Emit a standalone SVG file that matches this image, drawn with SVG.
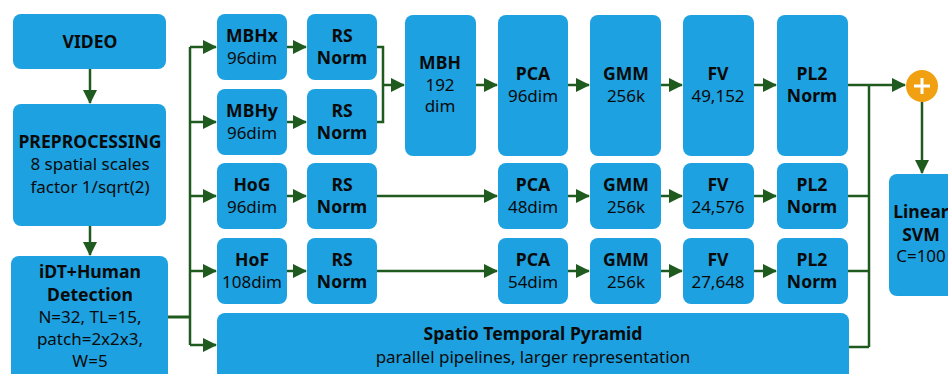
<svg xmlns="http://www.w3.org/2000/svg" width="948" height="374" viewBox="0 0 948 374">
  <style>
    .box { fill: #1DA1E0; }
    .t { font-family: "Noto Sans", "Open Sans", "DejaVu Sans", sans-serif; font-size: 17px; fill: #0a0a0a; text-anchor: middle; }
    .b { font-weight: bold; font-size: 17.6px; }
    .wire { fill: none; stroke: #1F5A1E; stroke-width: 2.5; }
  </style>
  <defs>
    <marker id="arrow" markerUnits="userSpaceOnUse" markerWidth="14" markerHeight="14" refX="13" refY="7" orient="auto">
      <path d="M0,0 L14,7 L0,14 z" fill="#1F5A1E"/>
    </marker>
  </defs>
  <rect width="948" height="374" fill="#ffffff"/>

  <!-- connectors -->
  <g id="connectors" class="wire">
    <path d="M90,69 V103" marker-end="url(#arrow)"/>
    <path d="M90,226 V255" marker-end="url(#arrow)"/>
    <path d="M168,317 H190" stroke-width="3"/>
    <path d="M190,47 V345"/>
    <path d="M190,47 H216" marker-end="url(#arrow)"/>
    <path d="M190,122 H216" marker-end="url(#arrow)"/>
    <path d="M190,196 H216" marker-end="url(#arrow)"/>
    <path d="M190,271 H216" marker-end="url(#arrow)"/>
    <path d="M190,345 H216" marker-end="url(#arrow)"/>
    <path d="M287,47 H306" marker-end="url(#arrow)"/>
    <path d="M287,122 H306" marker-end="url(#arrow)"/>
    <path d="M287,196 H306" marker-end="url(#arrow)"/>
    <path d="M287,271 H306" marker-end="url(#arrow)"/>
    <path d="M377,47 H383 V122 H377"/>
    <path d="M383,85 H404" marker-end="url(#arrow)"/>
    <path d="M476,85 H497" marker-end="url(#arrow)"/>
    <path d="M377,196 H497" marker-end="url(#arrow)"/>
    <path d="M377,271 H497" marker-end="url(#arrow)"/>
    <path d="M568,85 H589" marker-end="url(#arrow)"/>
    <path d="M568,196 H589" marker-end="url(#arrow)"/>
    <path d="M568,271 H589" marker-end="url(#arrow)"/>
    <path d="M661,85 H682" marker-end="url(#arrow)"/>
    <path d="M661,196 H682" marker-end="url(#arrow)"/>
    <path d="M661,271 H682" marker-end="url(#arrow)"/>
    <path d="M754,85 H776" marker-end="url(#arrow)"/>
    <path d="M754,196 H776" marker-end="url(#arrow)"/>
    <path d="M754,271 H776" marker-end="url(#arrow)"/>
    <path d="M848,85 H905" marker-end="url(#arrow)"/>
    <path d="M869,85 V347"/>
    <path d="M848,196 H869"/>
    <path d="M848,271 H869"/>
    <path d="M849,347 H869"/>
    <path d="M922,102 V173" marker-end="url(#arrow)"/>
  </g>

  <g id="video">
    <rect class="box" x="13" y="14" width="153" height="55" rx="8"/>
    <text class="t b" x="90" y="48">VIDEO</text>
  </g>
  <g id="preprocessing">
    <rect class="box" x="13" y="104" width="153" height="122" rx="8"/>
    <text class="t b" x="90" y="148">PREPROCESSING</text>
    <text class="t" x="90" y="170">8 spatial scales</text>
    <text class="t" x="90" y="193">factor 1/sqrt(2)</text>
  </g>
  <g id="idt">
    <rect class="box" x="11" y="256" width="157" height="130" rx="8"/>
    <text class="t b" x="90" y="278">iDT+Human</text>
    <text class="t b" x="90" y="301">Detection</text>
    <text class="t" x="90" y="323">N=32, TL=15,</text>
    <text class="t" x="90" y="345">patch=2x2x3,</text>
    <text class="t" x="90" y="367">W=5</text>
  </g>

  <g id="mbhx">
    <rect class="box" x="217" y="14" width="70" height="66" rx="8"/>
    <text class="t b" x="252" y="42">MBHx</text>
    <text class="t" x="252" y="64">96dim</text>
  </g>
  <g id="mbhy">
    <rect class="box" x="217" y="89" width="70" height="66" rx="8"/>
    <text class="t b" x="252" y="117">MBHy</text>
    <text class="t" x="252" y="139">96dim</text>
  </g>
  <g id="hog">
    <rect class="box" x="217" y="163" width="70" height="66" rx="8"/>
    <text class="t b" x="252" y="191">HoG</text>
    <text class="t" x="252" y="213">96dim</text>
  </g>
  <g id="hof">
    <rect class="box" x="217" y="238" width="70" height="66" rx="8"/>
    <text class="t b" x="252" y="266">HoF</text>
    <text class="t" x="252" y="288">108dim</text>
  </g>
  <g id="stp">
    <rect class="box" x="217" y="313" width="632" height="80" rx="8"/>
    <text class="t b" x="533" y="340">Spatio Temporal Pyramid</text>
    <text class="t" x="533" y="363">parallel pipelines, larger representation</text>
  </g>

  <g id="rs1">
    <rect class="box" x="307" y="14" width="70" height="66" rx="8"/>
    <text class="t b" x="342" y="42">RS</text>
    <text class="t b" x="342" y="64">Norm</text>
  </g>
  <g id="rs2">
    <rect class="box" x="307" y="89" width="70" height="66" rx="8"/>
    <text class="t b" x="342" y="117">RS</text>
    <text class="t b" x="342" y="139">Norm</text>
  </g>
  <g id="rs3">
    <rect class="box" x="307" y="163" width="70" height="66" rx="8"/>
    <text class="t b" x="342" y="191">RS</text>
    <text class="t b" x="342" y="213">Norm</text>
  </g>
  <g id="rs4">
    <rect class="box" x="307" y="238" width="70" height="66" rx="8"/>
    <text class="t b" x="342" y="266">RS</text>
    <text class="t b" x="342" y="288">Norm</text>
  </g>

  <g id="mbh">
    <rect class="box" x="405" y="15" width="71" height="141" rx="8"/>
    <text class="t b" x="440" y="69">MBH</text>
    <text class="t" x="440" y="91">192</text>
    <text class="t" x="440" y="112">dim</text>
  </g>

  <g id="pca1">
    <rect class="box" x="498" y="15" width="70" height="141" rx="8"/>
    <text class="t b" x="533" y="80">PCA</text>
    <text class="t" x="533" y="102">96dim</text>
  </g>
  <g id="pca2">
    <rect class="box" x="498" y="163" width="70" height="66" rx="8"/>
    <text class="t b" x="533" y="191">PCA</text>
    <text class="t" x="533" y="213">48dim</text>
  </g>
  <g id="pca3">
    <rect class="box" x="498" y="238" width="70" height="66" rx="8"/>
    <text class="t b" x="533" y="266">PCA</text>
    <text class="t" x="533" y="288">54dim</text>
  </g>

  <g id="gmm1">
    <rect class="box" x="590" y="15" width="71" height="141" rx="8"/>
    <text class="t b" x="626" y="80">GMM</text>
    <text class="t" x="626" y="102">256k</text>
  </g>
  <g id="gmm2">
    <rect class="box" x="590" y="163" width="71" height="66" rx="8"/>
    <text class="t b" x="626" y="191">GMM</text>
    <text class="t" x="626" y="213">256k</text>
  </g>
  <g id="gmm3">
    <rect class="box" x="590" y="238" width="71" height="66" rx="8"/>
    <text class="t b" x="626" y="266">GMM</text>
    <text class="t" x="626" y="288">256k</text>
  </g>

  <g id="fv1">
    <rect class="box" x="683" y="15" width="71" height="141" rx="8"/>
    <text class="t b" x="718" y="80">FV</text>
    <text class="t" x="718" y="102">49,152</text>
  </g>
  <g id="fv2">
    <rect class="box" x="683" y="163" width="71" height="66" rx="8"/>
    <text class="t b" x="718" y="191">FV</text>
    <text class="t" x="718" y="213">24,576</text>
  </g>
  <g id="fv3">
    <rect class="box" x="683" y="238" width="71" height="66" rx="8"/>
    <text class="t b" x="718" y="266">FV</text>
    <text class="t" x="718" y="288">27,648</text>
  </g>

  <g id="pl2a">
    <rect class="box" x="777" y="15" width="71" height="141" rx="8"/>
    <text class="t b" x="812" y="80">PL2</text>
    <text class="t b" x="812" y="102">Norm</text>
  </g>
  <g id="pl2b">
    <rect class="box" x="777" y="163" width="71" height="66" rx="8"/>
    <text class="t b" x="812" y="191">PL2</text>
    <text class="t b" x="812" y="213">Norm</text>
  </g>
  <g id="pl2c">
    <rect class="box" x="777" y="238" width="71" height="66" rx="8"/>
    <text class="t b" x="812" y="266">PL2</text>
    <text class="t b" x="812" y="288">Norm</text>
  </g>

  <g id="sum">
    <circle cx="922" cy="86" r="16" fill="#F0A010"/>
    <path d="M914,86 H930 M922,78 V94" stroke="#ffffff" stroke-width="3" fill="none"/>
  </g>

  <g id="svm">
    <rect class="box" x="889" y="174" width="70" height="122" rx="8"/>
    <text class="t b" x="921" y="218">Linear</text>
    <text class="t b" x="921" y="241">SVM</text>
    <text class="t" x="921" y="262">C=100</text>
  </g>
</svg>
